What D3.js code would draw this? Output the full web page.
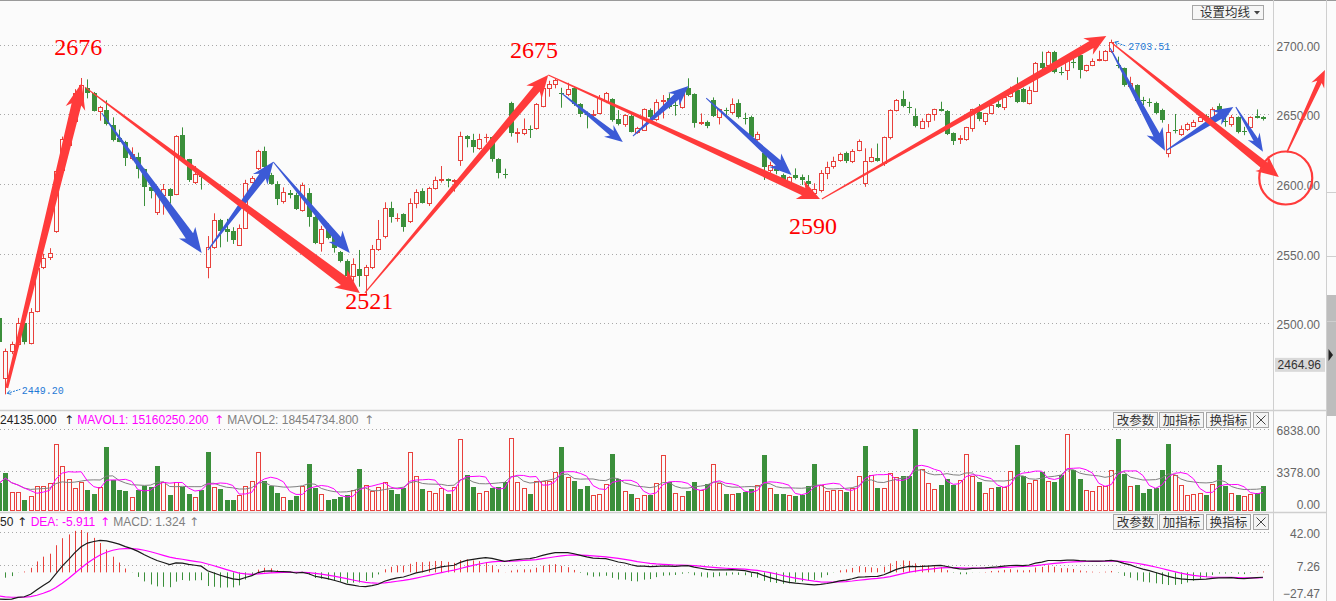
<!DOCTYPE html>
<html><head><meta charset="utf-8">
<script src="https://cdn.jsdelivr.net/npm/d3@7/dist/d3.min.js"></script>
<style>html,body{margin:0;padding:0;background:#fbfbfb;}svg{display:block;}</style>
</head><body>
<svg id="chart" width="1336" height="601"></svg>
<script>
// ---------------- DATA ----------------
const opens = [2504,2461,2480,2485,2500,2486,2509,2540.7,2547.4,2566,2610,2628,2645,2659,2668.6,2665.5,2652.6,2653,2642.3,2632.7,
2630.3,2618.4,2619.6,2610.5,2597.6,2580.2,2592.1,2596.2,2592.6,2635.1,2617.7,2601.7,2607.5,2540.7,2555,2574.2,2567.5,2566.3,2556.2,2568.7,
2601.7,2611.2,2623.7,2606.5,2600,2588,2593.8,2592,2581.4,2593.3,2576.1,2557.5,2568.2,2561.8,2551.5,2545,2534.3,2539,2534.8,2540.3,
2553.2,2562.7,2582.6,2575.4,2578.5,2573.7,2586.6,2595.2,2586.1,2596.9,2603.2,2603.5,2602.2,2617.2,2634.4,2631.5,2625.6,2633.4,2633.5,2617.9,
2607,2657.8,2636.4,2636.3,2639.3,2639.9,2656.2,2668.6,2671.5,2665.5,2664.5,2668.6,2657.4,2650.7,2649.8,2650.7,2659.7,2660.7,2646.4,2642.8,
2648.8,2637.5,2638.7,2653,2646.4,2659.3,2661.4,2656.8,2655.4,2668.6,2664.5,2643.8,2644.7,2660.2,2647.8,2653.2,2651.4,2658.3,2647.2,2648.3,
2632.5,2622,2610,2611,2606.5,2601.7,2606.5,2604.8,2602.2,2593.8,2595.7,2607.6,2612.7,2617.2,2622,2616.5,2624.4,2600.5,2616.7,2618.9,
2615,2633.5,2653,2660.9,2655.4,2648.7,2640.4,2645.4,2650,2653.6,2652.6,2636.3,2632.5,2632,2639.9,2651.9,2645.4,2651.1,2657.4,2655,
2663,2667.4,2667.9,2657.8,2666.7,2687,2685.3,2694.9,2680.3,2681.7,2687.5,2692.5,2681.7,2685.3,2689,2688.9,2695.6,2685.6,2682.9,2670.3,
2671,2660,2658.6,2658.3,2653,2622,2639,2635.8,2639.2,2641.8,2645.4,2648.7,2647.8,2655.9,2644.9,2643,2647.8,2637.8,2641.1,2648.9,
2647.8];
const highs = [2510,2482,2487,2504,2501,2511,2541,2550,2554,2610,2634,2642,2668,2676,2675,2666,2656,2660,2647.8,2639,
2631,2626.3,2622.5,2611,2601.5,2598.5,2600,2597,2635,2640.6,2618,2612.9,2609,2562.7,2579,2575,2575,2569,2571,2603,
2605.7,2624.5,2626.8,2608,2602,2597.6,2595.7,2593.8,2601,2597,2577,2570,2571.8,2564.6,2552,2546,2546.7,2552.7,2542,2556.3,
2574.2,2586.9,2587.3,2579,2579,2589.7,2596.2,2596.9,2598,2605.3,2612.9,2604,2603.5,2637.5,2635,2636,2636,2636,2634,2618.5,
2611,2659,2640,2647,2642,2658,2670,2674,2675.5,2669,2672.6,2670,2658,2652,2653,2663.8,2666,2661.5,2653,2650,
2650,2641,2654.2,2654.2,2660.7,2663.8,2665,2664,2666,2675.8,2665,2650.6,2645.5,2662.1,2654,2654.7,2661.4,2660.7,2651.1,2649,
2637.5,2623,2616,2612,2607.5,2605.5,2611.2,2606.8,2606.4,2600.5,2610,2616,2619.6,2622.5,2623.2,2625,2632,2625.6,2625.6,2629,
2634,2653.5,2660.9,2666.9,2659,2654.2,2647,2650.5,2654,2659,2653,2637,2635,2641,2654,2657.3,2651,2660.7,2660.7,2662.5,
2669.8,2676.5,2669,2669.8,2687.5,2694.9,2695.5,2695.5,2684,2690.5,2691,2693,2685.5,2690,2695.6,2696,2703.51,2691.3,2683.5,2676.9,
2671.5,2662.5,2661.4,2659,2654,2643,2650.2,2642,2644,2646,2649,2650,2655,2657.8,2647.8,2649.5,2648.5,2641,2648.5,2653.5,
2648.7];
const lows = [2485,2449.2,2478,2484,2485,2485,2508,2539,2545.5,2565,2609,2626,2643,2657,2661.4,2652,2645.4,2642,2630.5,2630,
2612.9,2617,2604,2584.2,2589.7,2577.8,2578,2586,2592,2617,2601.5,2600,2596,2532.4,2553.5,2554.6,2558.6,2557,2555.6,2568,
2600.5,2610,2611,2599.5,2584.9,2586,2589.7,2581.4,2580.2,2569.4,2556.9,2551.5,2560.3,2550.8,2543.8,2534,2530,2526.4,2520.4,2539,
2552,2561,2572.3,2573,2565.8,2572,2582.6,2586,2584.2,2596,2601,2597.6,2594.5,2613,2626.3,2622.5,2624.5,2629.6,2616,2604,
2604,2634,2629.6,2635,2633,2639,2655,2662.6,2668.6,2654.7,2663,2656,2648,2639.9,2647,2650,2658,2644.7,2642,2641,
2637,2636,2638,2646,2645,2647,2654,2649,2654,2663,2640.4,2642.3,2640,2648,2642.7,2649.5,2650,2647,2642.7,2631.5,
2631,2602.9,2608,2607,2600.5,2600.5,2603.3,2599.3,2598,2589.5,2594,2603.5,2611,2616,2615,2615,2623.5,2598,2615.5,2616,
2613,2632,2652,2655,2650.7,2640.6,2639.5,2640.6,2645.4,2652,2635.1,2628,2628.7,2631,2637.5,2645,2642.3,2650,2654.5,2653,
2662,2658,2658.5,2657,2666,2682,2684,2679.3,2678,2674.6,2683,2675.7,2680.5,2684.5,2688,2688,2694,2683,2669.8,2669.5,
2658.3,2656.6,2655.4,2650.2,2644,2619.1,2636.3,2634.5,2638,2641,2644.5,2646,2646.5,2649,2641.1,2641.1,2636.3,2635,2640,2647,
2645.5];
const closes = [2487,2480,2485,2500,2487,2508,2539.5,2547.2,2550.3,2609,2632,2640,2665,2671,2665.5,2652.6,2655,2643,2631.5,2630.3,
2618.9,2621.5,2610.5,2598,2595.2,2593.3,2596.2,2591.6,2634.4,2617.7,2602.9,2607.2,2605,2555,2574.2,2566,2565.8,2559.9,2568.7,2601,
2604,2623.9,2612.4,2600,2589.5,2594,2592.4,2582.1,2599,2576.6,2558,2567.5,2561.5,2553.9,2545,2534.3,2542.4,2534.3,2540.3,2553.2,
2560.3,2582.6,2576.1,2575.9,2569,2586.6,2594.5,2586.6,2596.9,2602.9,2603.9,2602,2603,2634.4,2632.3,2626.3,2632,2633.8,2617.9,2607.6,
2606.5,2636.3,2637.5,2639.2,2638.9,2657.1,2668.6,2671.5,2674.8,2665,2667.9,2657.4,2650.2,2649.5,2650.5,2661.4,2665,2645.9,2643,2649.5,
2637.5,2639.9,2653.5,2647.8,2659,2660,2655.5,2656.6,2665,2663.8,2644,2644.2,2641.8,2648.7,2653.5,2653,2657.4,2648.3,2647,2633.5,
2635.8,2612,2613.6,2609,2602.4,2604.8,2604.6,2602.9,2599.8,2596.2,2607.6,2611.9,2616.7,2621.3,2616.7,2623.9,2630.8,2616.5,2619.1,2616.5,
2633.5,2653,2660.2,2656.2,2655,2641.8,2645.2,2649.9,2653.6,2652.6,2635.8,2631,2632.7,2640.6,2653.6,2646.4,2650.7,2656.6,2655.5,2662.1,
2665,2659,2658.8,2667.4,2687,2682.9,2694.9,2680.5,2679.8,2690,2687,2681.7,2685,2688.4,2689.4,2695.6,2702,2685.3,2671,2672.2,
2659.7,2659.6,2658.3,2651.1,2645.9,2637.5,2638.7,2639.2,2642.8,2644.7,2647.8,2647.5,2654,2653,2644.7,2647.8,2637.5,2637.5,2647.8,2647.6,
2646.4];
const volumes = [2300,3181,1590,1590,880,1221,2073,2073,2300,5623,3749,2641,1931,2442,1732,1392,1960,5311,2556,1732,
1647,1136,1732,2102,2016,3720,2385,1363,2385,2016,1392,1136,1732,4970,2016,1818,937,880,1363,2073,
2499,4942,2499,2073,1505,1136,937,1221,2073,3948,1931,1448,880,1022,1164,1306,1732,3522,2158,1647,
2016,2386,1732,1448,1874,4942,2925,1818,1647,1534,1874,1392,2016,5992,3010,1988,1534,1647,1931,1988,
2386,6134,2442,1874,1392,2528,2528,2528,3238,5311,2812,2499,1818,2073,1363,1448,2215,4800,2670,1700,
1392,1108,1363,1363,2300,4714,2386,1534,1221,1647,2442,1732,2215,3919,2300,1392,1448,1505,1590,1818,
2158,4714,1874,1392,1392,1363,1250,1363,2073,3948,2158,1647,1732,1732,1590,1874,2925,5396,3010,1950,
1874,3152,2868,2925,2925,6838,3522,2300,1818,2158,2670,2158,2584,4771,2954,2386,1534,1874,2016,2016,
3351,5510,2925,2300,2584,3294,2528,2450,3010,6418,3436,2670,1732,1647,2102,2102,3436,5992,3096,2073,
2158,1505,1818,1874,3436,5566,3010,2158,1306,1392,1534,1306,2215,3862,2073,1534,1363,1250,1448,1534,
2062];
const closeBeforeFirst = 2510;          // close of the bar just left of the view
const macdStart = {dif: -27.47, dea: -24.5, level: 2525};   // indicator state at the first visible bar

const priceTicks = [2500, 2550, 2600, 2650, 2700];
const volTicks = [0, 3378, 6838];
const macdTicks = [-27.47, 7.26, 42];
const lastPriceTag = 2464.96;

// annotations: [candle index, price]
const redArrows = [
  [[1.22, 2453.8], [13.08, 2672.4]],
  [[13.6, 2669.5], [57.1, 2521.9]],
  [[57.9, 2521.9], [86.9, 2678.1]],
  [[86.9, 2678.1], [129.9, 2589.2]],
  [[130.2, 2589.2], [175.2, 2706.1]],
  [[176.1, 2701.1], [202.5, 2605.0]],
  [[203.8, 2622.9], [209.8, 2681.7]]
];
const blueArrows = [
  [[16.25, 2650.9], [32.07, 2550.5]],
  [[33.07, 2552.7], [43.4, 2616.0]],
  [[43.4, 2615.8], [55.5, 2550.5]],
  [[89.0, 2665.2], [98.7, 2630.1]],
  [[100.3, 2634.4], [109.1, 2670.3]],
  [[111.9, 2661.6], [125.4, 2606.5]],
  [[175.8, 2697.5], [184.5, 2623.9]],
  [[184.8, 2624.4], [195.3, 2655.2]],
  [[195.7, 2655.2], [200.0, 2623.2]]
];
const circleMark = [203.6, 2604.3];
const pointLabels = [
  {text: "2676", i: 12.55, p: 2692.5},
  {text: "2675", i: 84.65, p: 2690.3},
  {text: "2521", i: 58.6, p: 2510.4},
  {text: "2590", i: 128.8, p: 2564.2}
];
const extremeMarks = [
  {text: "2449.20", i: 1, p: 2449.2, dir: "low"},
  {text: "2703.51", i: 176, p: 2703.51, dir: "high"}
];
const volHeader = ["24135.000", "MAVOL1: 15160250.200", "MAVOL2: 18454734.800"];
const macdHeader = ["50", "DEA: -5.911", "MACD: 1.324"];
const buttonLabels = ["改参数", "加指标", "换指标"];
const maTitle = "设置均线";

// ---------------- STYLE ----------------
const RED = "#e8413c", GREEN = "#3b8f3b", BG = "#fbfbfb";
const ARROW_RED = "#ff3b3b", ARROW_BLUE = "#3c5ad6";
const redStyle = [
  {w0: 3, w1: 10, hw: 20, hl: 26}, {w0: 1, w1: 10, hw: 22, hl: 24}, {w0: 1, w1: 8, hw: 20, hl: 22},
  {w0: 1.2, w1: 8, hw: 20, hl: 22}, {w0: 1, w1: 8, hw: 19, hl: 21}, {w0: 1, w1: 8, hw: 20, hl: 22},
  {w0: 1.5, w1: 5, hw: 14, hl: 17}
];
const blueStyle = [
  {w0: 1, w1: 9, hw: 20, hl: 25}, {w0: 1, w1: 8, hw: 18, hl: 22}, {w0: 1, w1: 7, hw: 18, hl: 22},
  {w0: 1, w1: 6, hw: 15, hl: 18}, {w0: 1, w1: 7, hw: 17, hl: 20}, {w0: 1, w1: 7, hw: 18, hl: 22},
  {w0: 1, w1: 7, hw: 18, hl: 22}, {w0: 1, w1: 7, hw: 17, hl: 20}, {w0: 1, w1: 5, hw: 14, hl: 18}
];

// ---------------- SCALES ----------------
const N = closes.length;
const plotRight = 1273;
const x = d3.scaleLinear().domain([0, N - 1]).range([-1, 1263]);
const yP = d3.scaleLinear().domain([2439.4, 2730.5]).range([408, 2]);
const yV = d3.scaleLinear().domain([0, 6838]).range([510.8, 429.3]);
const yM = d3.scaleLinear().domain([-27.47, 42]).range([599, 531.7]);

const data = d3.range(N).map(i => ({i, o: opens[i], h: highs[i], l: lows[i], c: closes[i], v: volumes[i],
  pc: i === 0 ? closeBeforeFirst : closes[i - 1]}));

// indicators
const ma = (k) => data.map((d, i) => d3.mean(volumes.slice(Math.max(0, i - k + 1), i + 1)));
const ma5 = ma(5), ma10 = ma(10);
let e12 = macdStart.level + macdStart.dif / 2, e26 = macdStart.level - macdStart.dif / 2, dea = macdStart.dea;
const macd = data.map((d, i) => {
  if (i > 0) { e12 = e12 * 11 / 13 + d.c * 2 / 13; e26 = e26 * 25 / 27 + d.c * 2 / 27; }
  const dif = i === 0 ? macdStart.dif : e12 - e26;
  if (i > 0) dea = dea * 0.8 + dif * 0.2;
  return {i, dif, dea, hist: 2 * (dif - dea)};
});

// ---------------- DRAW ----------------
const svg = d3.select("#chart");
svg.append("rect").attr("width", 1336).attr("height", 601).attr("fill", BG);
const defs = svg.append("defs");
[["cp", 0, 0, plotRight, 410], ["cv", 0, 411, plotRight, 101], ["cm", 0, 513, plotRight, 88]].forEach(([id, a, b, w, h]) =>
  defs.append("clipPath").attr("id", id).append("rect").attr("x", a).attr("y", b).attr("width", w).attr("height", h));

const snap = v => Math.round(v) + 0.5;
function grid(scale, ticks) {
  svg.append("g").selectAll("line").data(ticks).join("line")
    .attr("x1", 0).attr("x2", plotRight - 1)
    .attr("y1", d => snap(scale(d))).attr("y2", d => snap(scale(d)))
    .attr("stroke", "#a8a8a8").attr("stroke-dasharray", "1,3");
}
grid(yP, priceTicks);
grid(yV, volTicks.filter(d => d > 0));
grid(yM, macdTicks.filter(d => d > -27));

// frame lines
const frame = svg.append("g").attr("stroke", "#cfcfcf").attr("fill", "none");
frame.append("line").attr("x1", 0).attr("x2", 1336).attr("y1", 0.5).attr("y2", 0.5).attr("stroke", "#9a9a9a");
frame.append("line").attr("x1", 0).attr("x2", 1327).attr("y1", 410.5).attr("y2", 410.5).attr("stroke-width", 1.5);
frame.append("line").attr("x1", 0).attr("x2", 1327).attr("y1", 512.5).attr("y2", 512.5).attr("stroke-width", 1.5);
frame.append("line").attr("x1", plotRight + 0.5).attr("x2", plotRight + 0.5).attr("y1", 0).attr("y2", 601);
frame.append("line").attr("x1", 1326.5).attr("x2", 1326.5).attr("y1", 0).attr("y2", 601);
svg.append("rect").attr("x", 1327).attr("y", 295).attr("width", 9).attr("height", 121).attr("fill", "#bdbdbd");
svg.append("path").attr("d", "M1328.5,349L1333,355L1328.5,361Z").attr("fill", "#222");
svg.append("g").selectAll("line").data([192, 256, 321]).join("line")
  .attr("x1", 1327).attr("x2", 1336).attr("y1", d => d + 0.5).attr("y2", d => d + 0.5).attr("stroke", "#cfcfcf");

// candles
const cg = svg.append("g").attr("clip-path", "url(#cp)");
data.forEach(d => {
  const px = Math.round(x(d.i)), cx = px + 0.5;
  if (d.c >= d.o) {
    const yt = snap(yP(d.c)), yb = snap(yP(d.o));
    cg.append("line").attr("x1", cx).attr("x2", cx).attr("y1", yP(d.h)).attr("y2", yt).attr("stroke", RED);
    cg.append("line").attr("x1", cx).attr("x2", cx).attr("y1", yb).attr("y2", yP(d.l)).attr("stroke", RED);
    if (yb - yt < 1) cg.append("line").attr("x1", px - 2).attr("x2", px + 3).attr("y1", yt).attr("y2", yt).attr("stroke", RED);
    else cg.append("rect").attr("x", px - 1.5).attr("y", yt).attr("width", 4).attr("height", yb - yt)
      .attr("fill", BG).attr("stroke", RED);
  } else {
    cg.append("line").attr("x1", cx).attr("x2", cx).attr("y1", yP(d.h)).attr("y2", yP(d.l)).attr("stroke", GREEN);
    const yt = Math.round(yP(d.o)), yb = Math.round(yP(d.c));
    cg.append("rect").attr("x", px - 2).attr("y", yt).attr("width", 5).attr("height", Math.max(1, yb - yt)).attr("fill", GREEN);
  }
});

// volume bars
const vg = svg.append("g").attr("clip-path", "url(#cv)");
const base = Math.round(yV(0));
data.forEach(d => {
  const px = Math.round(x(d.i)), up = d.c >= d.pc;
  const top = Math.round(yV(d.v));
  if (up) vg.append("rect").attr("x", px - 1.5).attr("y", top + 0.5).attr("width", 4).attr("height", base - top - 1)
    .attr("fill", "none").attr("stroke", RED);
  else vg.append("rect").attr("x", px - 2).attr("y", top).attr("width", 5).attr("height", base - top).attr("fill", GREEN);
});
const lineV = arr => d3.line().x((d, i) => x(i)).y(d => yV(d))(arr);
vg.append("path").attr("d", lineV(ma10)).attr("fill", "none").attr("stroke", "#808080");
vg.append("path").attr("d", lineV(ma5)).attr("fill", "none").attr("stroke", "#ff00ff");

// macd
const mg = svg.append("g").attr("clip-path", "url(#cm)");
mg.selectAll("line").data(macd).join("line")
  .attr("x1", d => snap(x(d.i))).attr("x2", d => snap(x(d.i)))
  .attr("y1", yM(0)).attr("y2", d => yM(d.hist))
  .attr("stroke", d => d.hist >= 0 ? RED : GREEN).attr("stroke-width", 1);
mg.append("path").attr("d", d3.line().x(d => x(d.i)).y(d => yM(d.dea))(macd)).attr("fill", "none").attr("stroke", "#ff00ff").attr("stroke-width", 1.2);
mg.append("path").attr("d", d3.line().x(d => x(d.i)).y(d => yM(d.dif))(macd)).attr("fill", "none").attr("stroke", "#1a1a1a").attr("stroke-width", 1.2);

// axes (right side labels)
function rightAxis(scale, ticks, bottomLimit) {
  const g = svg.append("g").attr("transform", "translate(1320,0)")
    .call(d3.axisRight(scale).tickValues(ticks).tickSize(0).tickPadding(0).tickFormat(d3.format(".2f")));
  g.select(".domain").remove();
  g.selectAll("text").attr("text-anchor", "end").attr("x", 0).attr("dy", null)
    .attr("y", d => Math.min(scale(d) + 5.5, bottomLimit) - scale(d))
    .attr("fill", "#666").style("font", "12px 'Liberation Sans', Arial, sans-serif");
}
rightAxis(yP, priceTicks, 405);
rightAxis(yV, volTicks, 508.3);
rightAxis(yM, macdTicks, 597.5);
// last price tag
const tagY = yP(lastPriceTag);
svg.append("rect").attr("x", 1275).attr("y", tagY - 14.5).attr("width", 50).attr("height", 14).attr("fill", "#d9d9d9");
svg.append("text").attr("x", 1321).attr("y", tagY - 3).attr("text-anchor", "end").attr("fill", "#333")
  .style("font", "12px 'Liberation Sans', Arial, sans-serif").text(d3.format(".2f")(lastPriceTag));

// headers
const hfont = "12px 'Liberation Sans', Arial, sans-serif";
function header(y, items) {
  const g = svg.append("g");
  items.forEach(([t, xx, col]) => g.append("text").attr("x", xx).attr("y", y).attr("fill", col)
    .style("font", t === "↑" ? "12px 'DejaVu Sans', sans-serif" : hfont).text(t));
}
header(423.5, [[volHeader[0], 0, "#222"], ["↑", 64, "#222"], [volHeader[1], 77.3, "#ff00ff"], ["↑", 214, "#ff00ff"],
  [volHeader[2], 227.3, "#808080"], ["↑", 364, "#808080"]]);
header(526, [[macdHeader[0], 0, "#222"], ["↑", 17, "#222"], [macdHeader[1], 30.7, "#ff00ff"], ["↑", 100, "#ff00ff"],
  [macdHeader[2], 113.3, "#808080"], ["↑", 189, "#808080"]]);

// buttons
function buttons(y0) {
  const g = svg.append("g");
  const xs = [1113, 1159, 1206];
  buttonLabels.forEach((t, k) => {
    g.append("rect").attr("x", xs[k] + 0.5).attr("y", y0 + 0.5).attr("width", 44).attr("height", 15)
      .attr("fill", "#f4f4f4").attr("stroke", "#a6a6a6");
    g.append("text").attr("x", xs[k] + 22.5).attr("y", y0 + 12.5).attr("text-anchor", "middle").attr("fill", "#333")
      .style("font", "12.5px 'Noto Sans CJK SC', sans-serif").text(t);
  });
  g.append("rect").attr("x", 1253.5).attr("y", y0 + 0.5).attr("width", 15).attr("height", 15)
    .attr("fill", "#f4f4f4").attr("stroke", "#a6a6a6");
  g.append("path").attr("d", `M1256.5,${y0 + 3.5}L1265.5,${y0 + 12.5}M1265.5,${y0 + 3.5}L1256.5,${y0 + 12.5}`)
    .attr("stroke", "#444").attr("stroke-width", 1);
}
buttons(412);
buttons(514);
// ma setting button
svg.append("rect").attr("x", 1192.5).attr("y", 5.5).attr("width", 71).attr("height", 14).attr("fill", "#f6f6f6").attr("stroke", "#a6a6a6");
svg.append("text").attr("x", 1200).attr("y", 17).attr("fill", "#333").style("font", "12.5px 'Noto Sans CJK SC', sans-serif").text(maTitle);
svg.append("path").attr("d", "M1254,11L1260,11L1257,14.5Z").attr("fill", "#444");

// annotation arrows
function arrowPoly(x1, y1, x2, y2, s) {
  const dx = x2 - x1, dy = y2 - y1, L = Math.hypot(dx, dy), ux = dx / L, uy = dy / L, nx = -uy, ny = ux;
  const bx = x2 - ux * s.hl, by = y2 - uy * s.hl, notch = 4;
  const sx = bx + ux * notch, sy = by + uy * notch;
  const p = [[x1 + nx * s.w0 / 2, y1 + ny * s.w0 / 2], [sx + nx * s.w1 / 2, sy + ny * s.w1 / 2], [bx + nx * s.hw / 2, by + ny * s.hw / 2],
    [x2, y2], [bx - nx * s.hw / 2, by - ny * s.hw / 2], [sx - nx * s.w1 / 2, sy - ny * s.w1 / 2], [x1 - nx * s.w0 / 2, y1 - ny * s.w0 / 2]];
  return "M" + p.map(q => q[0].toFixed(1) + "," + q[1].toFixed(1)).join("L") + "Z";
}
const ag = svg.append("g");
blueArrows.forEach((a, k) => ag.append("path")
  .attr("d", arrowPoly(x(a[0][0]), yP(a[0][1]), x(a[1][0]), yP(a[1][1]), blueStyle[k])).attr("fill", ARROW_BLUE));
redArrows.forEach((a, k) => ag.append("path")
  .attr("d", arrowPoly(x(a[0][0]), yP(a[0][1]), x(a[1][0]), yP(a[1][1]), redStyle[k])).attr("fill", ARROW_RED));
ag.append("circle").attr("cx", x(circleMark[0])).attr("cy", yP(circleMark[1])).attr("r", 26.5)
  .attr("fill", "none").attr("stroke", ARROW_RED).attr("stroke-width", 2.2);

// labels
svg.append("g").selectAll("text").data(pointLabels).join("text")
  .attr("x", d => x(d.i)).attr("y", d => yP(d.p)).attr("text-anchor", "middle").attr("fill", "#ff0000")
  .style("font", "24px 'Liberation Serif', 'Times New Roman', serif").text(d => d.text);

// extreme markers
extremeMarks.forEach(m => {
  const px = x(m.i), py = yP(m.p), col = "#1f7ad6";
  const g = svg.append("g");
  let hx, hy, tx, ty, lx, ly;
  if (m.dir === "low") { hx = px + 2; hy = py - 1; tx = px + 15; ty = py - 5; lx = px + 16.5; ly = py; }
  else { hx = px + 3.5; hy = py + 2.5; tx = px + 15; ty = py + 6.5; lx = px + 17; ly = py + 10.5; }
  g.append("line").attr("x1", hx).attr("y1", hy).attr("x2", tx).attr("y2", ty).attr("stroke", col).attr("stroke-dasharray", "2,1");
  const ang = Math.atan2(hy - ty, hx - tx);
  const a1 = ang + 2.6, a2 = ang - 2.6;
  g.append("path").attr("d", `M${hx},${hy}L${hx + 4 * Math.cos(a1)},${hy + 4 * Math.sin(a1)}M${hx},${hy}L${hx + 4 * Math.cos(a2)},${hy + 4 * Math.sin(a2)}`)
    .attr("stroke", col).attr("fill", "none");
  g.append("text").attr("x", lx).attr("y", ly).attr("fill", col)
    .style("font", "10px 'Liberation Mono', 'DejaVu Sans Mono', monospace").text(m.text);
});
</script>
</body></html>
